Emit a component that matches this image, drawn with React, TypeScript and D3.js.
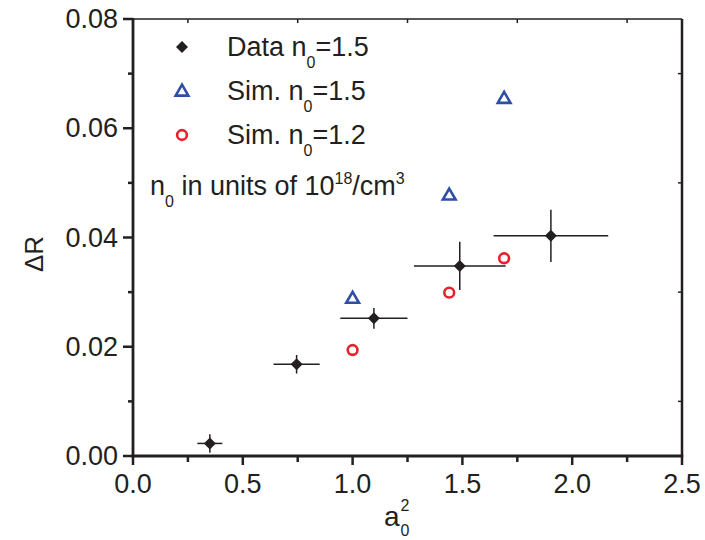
import React from "react";
import * as d3 from "d3";

// measured data (black diamonds with error bars)
const dataX = [0.35, 0.745, 1.097, 1.488, 1.903];
const dataY = [0.0023, 0.0168, 0.0252, 0.0348, 0.0403];
const dataXErr = [0.057, 0.105, 0.153, 0.209, 0.261];
const dataYErr = [0.0017, 0.0017, 0.0019, 0.0044, 0.0048];

// simulation n0 = 1.5 (blue triangles)
const simAX = [1.0, 1.44, 1.69];
const simAY = [0.0289, 0.0478, 0.0655];

// simulation n0 = 1.2 (red circles)
const simBX = [1.0, 1.44, 1.69];
const simBY = [0.0194, 0.0299, 0.0362];

const xTicks = [0, 0.5, 1.0, 1.5, 2.0, 2.5];
const yTicks = [0, 0.02, 0.04, 0.06, 0.08];

const W = 705;
const H = 540;
const FONT = "'Liberation Sans', Arial, sans-serif";
const FS = 27;
const SUB = 16;
const INK = "#231f20";
const BLUE = "#2f4ea5";
const RED = "#e8212b";

export default function App() {
  const svgRef = React.useRef<SVGSVGElement>(null);

  React.useEffect(() => {
    const svg = d3.select(svgRef.current);
    svg.selectAll("*").remove();

    const left = 133, right = 682, top = 19, bottom = 456;
    const x = d3.scaleLinear().domain([0, 2.5]).range([left, right]);
    const y = d3.scaleLinear().domain([0, 0.08]).range([bottom, top]);

    const g = svg.append("g");

    // minor + major ticks
    const xMinor = d3.range(0, 2.5001, 0.25);
    const yMinor = d3.range(0, 0.08001, 0.01);
    const isMajorX = (v: number) => Math.abs(v * 2 - Math.round(v * 2)) < 1e-6;
    const isMajorY = (v: number) => Math.abs(v * 50 - Math.round(v * 50)) < 1e-6;

    // bottom ticks (outward)
    g.selectAll(".xb").data(xMinor).enter().append("line")
      .attr("x1", (d) => x(d)).attr("x2", (d) => x(d))
      .attr("y1", bottom).attr("y2", (d) => bottom + (isMajorX(d) ? 9 : 6))
      .attr("stroke", INK).attr("stroke-width", 2.5);
    // top ticks (inward)
    g.selectAll(".xt").data(xMinor).enter().append("line")
      .attr("x1", (d) => x(d)).attr("x2", (d) => x(d))
      .attr("y1", top).attr("y2", (d) => top + (isMajorX(d) ? 0 : 4))
      .attr("stroke", INK).attr("stroke-width", 1.5);
    // left ticks (outward)
    g.selectAll(".yl").data(yMinor).enter().append("line")
      .attr("y1", (d) => y(d)).attr("y2", (d) => y(d))
      .attr("x1", left).attr("x2", (d) => left - (isMajorY(d) ? 10 : 5))
      .attr("stroke", INK).attr("stroke-width", 2.5);
    // right ticks (inward)
    g.selectAll(".yr").data(yMinor).enter().append("line")
      .attr("y1", (d) => y(d)).attr("y2", (d) => y(d))
      .attr("x1", right).attr("x2", (d) => right - (isMajorY(d) ? 0 : 4))
      .attr("stroke", INK).attr("stroke-width", 1.5);

    // frame
    g.append("line").attr("x1", left).attr("x2", right).attr("y1", top).attr("y2", top)
      .attr("stroke", INK).attr("stroke-width", 1.4);
    g.append("line").attr("x1", right).attr("x2", right).attr("y1", top).attr("y2", bottom)
      .attr("stroke", INK).attr("stroke-width", 2.5);
    g.append("line").attr("x1", left).attr("x2", left).attr("y1", top - 1).attr("y2", bottom + 1.25)
      .attr("stroke", INK).attr("stroke-width", 2.8);
    g.append("line").attr("x1", left - 1.4).attr("x2", right + 1.25).attr("y1", bottom).attr("y2", bottom)
      .attr("stroke", INK).attr("stroke-width", 2.8);

    // tick labels
    g.selectAll(".xl").data(xTicks).enter().append("text")
      .attr("x", (d) => x(d)).attr("y", 493)
      .attr("text-anchor", "middle").attr("font-family", FONT).attr("font-size", FS)
      .attr("fill", INK).text((d) => d3.format(".1f")(d));
    g.selectAll(".ylb").data(yTicks).enter().append("text")
      .attr("x", 118).attr("y", (d) => y(d) + 9)
      .attr("text-anchor", "end").attr("font-family", FONT).attr("font-size", FS)
      .attr("fill", INK).text((d) => d3.format(".2f")(d));

    // axis titles
    g.append("text").attr("transform", `translate(43,254) rotate(-90)`)
      .attr("text-anchor", "middle").attr("font-family", FONT).attr("font-size", FS - 1)
      .attr("fill", INK).text("ΔR");
    const xt = g.append("text").attr("x", 384).attr("y", 526)
      .attr("font-family", FONT).attr("font-size", FS + 1).attr("fill", INK);
    xt.append("tspan").text("a");
    xt.append("tspan").attr("font-size", SUB).attr("dx", 1).attr("dy", 10).text("0");
    xt.append("tspan").attr("font-size", SUB).attr("dx", -9).attr("dy", -25).text("2");

    // error bars
    const eb = g.append("g").attr("stroke", INK).attr("stroke-width", 1.5);
    dataX.forEach((xv, i) => {
      eb.append("line").attr("x1", x(xv - dataXErr[i])).attr("x2", x(xv + dataXErr[i]))
        .attr("y1", y(dataY[i])).attr("y2", y(dataY[i]));
      eb.append("line").attr("x1", x(xv)).attr("x2", x(xv))
        .attr("y1", y(dataY[i] - dataYErr[i])).attr("y2", y(dataY[i] + dataYErr[i]));
    });

    const diamond = d3.symbol().type(d3.symbolSquare).size(72)();
    const tri = d3.symbol().type(d3.symbolTriangle).size(70)();
    const circ = d3.symbol().type(d3.symbolCircle).size(75)();

    // data diamonds
    g.selectAll(".dm").data(dataX).enter().append("path")
      .attr("d", diamond)
      .attr("transform", (d, i) => `translate(${x(d)},${y(dataY[i])}) rotate(45)`)
      .attr("fill", INK);

    // sim triangles
    g.selectAll(".tr").data(simAX).enter().append("path")
      .attr("d", tri)
      .attr("transform", (d, i) => `translate(${x(d)},${y(simAY[i]) + 1})`)
      .attr("fill", "none").attr("stroke", BLUE).attr("stroke-width", 2.6);

    // sim circles
    g.selectAll(".ci").data(simBX).enter().append("path")
      .attr("d", circ)
      .attr("transform", (d, i) => `translate(${x(d)},${y(simBY[i])})`)
      .attr("fill", "none").attr("stroke", RED).attr("stroke-width", 2.6);

    // legend
    const leg = g.append("g");
    const rows = [
      { label: "Data n", tail: "=1.5", cy: 47 },
      { label: "Sim. n", tail: "=1.5", cy: 91 },
      { label: "Sim. n", tail: "=1.2", cy: 135 },
    ];
    leg.append("path").attr("d", diamond).attr("transform", `translate(182,${rows[0].cy}) rotate(45)`).attr("fill", INK);
    leg.append("path").attr("d", tri).attr("transform", `translate(182,${rows[1].cy + 1})`)
      .attr("fill", "none").attr("stroke", BLUE).attr("stroke-width", 2.6);
    leg.append("path").attr("d", circ).attr("transform", `translate(182,${rows[2].cy})`)
      .attr("fill", "none").attr("stroke", RED).attr("stroke-width", 2.6);
    rows.forEach((r) => {
      const t = leg.append("text").attr("x", 227).attr("y", r.cy + 8.5)
        .attr("font-family", FONT).attr("font-size", FS).attr("fill", INK);
      t.append("tspan").text(r.label);
      t.append("tspan").attr("font-size", SUB).attr("dy", 12).text("0");
      t.append("tspan").attr("dy", -12).text(r.tail);
    });
    const n = leg.append("text").attr("x", 150).attr("y", 195)
      .attr("font-family", FONT).attr("font-size", FS).attr("fill", INK);
    n.append("tspan").text("n");
    n.append("tspan").attr("font-size", SUB).attr("dy", 12).text("0");
    n.append("tspan").attr("dy", -12).text(" in units of 10");
    n.append("tspan").attr("font-size", SUB).attr("dy", -11).text("18");
    n.append("tspan").attr("dy", 11).text("/cm");
    n.append("tspan").attr("font-size", SUB).attr("dy", -11).text("3");
  }, []);

  return <svg ref={svgRef} width={W} height={H} style={{ position: "absolute", left: 0, top: 0, background: "#fff" }} />;
}
